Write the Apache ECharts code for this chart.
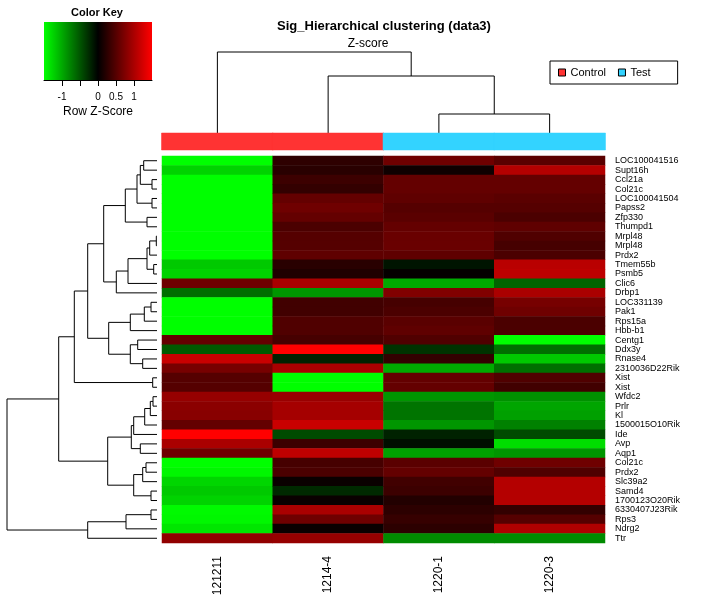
<!DOCTYPE html>
<html>
<head>
<meta charset="utf-8">
<script src="https://cdn.jsdelivr.net/npm/echarts@6/dist/echarts.min.js"></script>
<style>html,body{margin:0;padding:0;background:#fff}#c{width:702px;height:602px}</style>
</head>
<body>
<div id="c"></div>
<script>
// ---------------- data ----------------
const colLabels = ['121211', '1214-4', '1220-1', '1220-3'];
const colGroups = ['Control', 'Control', 'Test', 'Test'];
const rowLabels = ['LOC100041516','Supt16h','Ccl21a','Col21c','LOC100041504','Papss2','Zfp330','Thumpd1','Mrpl48','Mrpl48','Prdx2','Tmem55b','Psmb5','Clic6','Drbp1','LOC331139','Pak1','Rps15a','Hbb-b1','Centg1','Ddx3y','Rnase4','2310036D22Rik','Xist','Xist','Wfdc2','Prlr','Kl','1500015O10Rik','Ide','Avp','Aqp1','Col21c','Prdx2','Slc39a2','Samd4','1700123O20Rik','6330407J23Rik','Rps3','Ndrg2','Ttr'];
// row z-scores, one array per sample column
const z121211 = [-1.5,-1.24,-1.5,-1.5,-1.5,-1.5,-1.5,-1.5,-1.5,-1.5,-1.5,-1.18,-1.24,0.65,-0.65,-1.5,-1.5,-1.5,-1.5,0.59,-0.53,1.18,0.7,0.5,0.5,0.88,0.82,0.8,0.59,1.5,1.0,0.65,-1.5,-1.45,-1.26,-1.18,-1.24,-1.47,-1.45,-1.35,0.85];
const z1214_4 = [0.27,0.24,0.35,0.30,0.59,0.65,0.59,0.44,0.50,0.50,0.56,0.24,0.18,1.0,-0.88,0.38,0.38,0.47,0.47,0.41,1.5,-0.2,1.0,-1.5,-1.5,0.9,0.97,0.97,1.18,-0.44,0.35,1.12,0.41,0.44,0.06,-0.24,0.06,1.0,0.65,0.06,0.88];
const z1220_1 = [0.65,0.09,0.59,0.59,0.56,0.50,0.53,0.59,0.62,0.62,0.56,-0.12,0.03,-1.0,0.76,0.41,0.44,0.53,0.56,0.47,-0.3,0.3,-1.0,0.59,0.59,-0.88,-0.68,-0.68,-0.88,-0.2,-0.09,-0.94,0.53,0.59,0.38,0.35,0.2,0.26,0.32,0.26,-0.82];
const z1220_3 = [0.53,1.06,0.59,0.59,0.53,0.50,0.44,0.56,0.47,0.41,0.44,1.09,1.12,-0.59,1.0,0.70,0.65,0.44,0.44,-1.5,-0.65,-1.18,-0.65,0.47,0.38,-0.85,-0.97,-0.94,-0.76,-0.44,-1.3,-0.88,0.65,0.47,1.06,1.06,1.06,0.3,0.5,1.03,-0.82];
// hclust-style merges: negative = leaf (-(index+1)), positive = earlier merge (1-based); third = height
const rowMerges = [
  [-1,-2,13.3],[-3,-4,5],[1,2,16.7],[-5,-6,5],[3,4,20],[-7,-8,10],[5,6,31.7],
  [-9,-10,0.7],[8,-11,7.3],[-12,-13,3.3],[9,10,10],[11,-14,29],[12,-15,40.7],[7,13,53.3],
  [-16,-17,6],[15,-18,12.7],[16,-19,26.7],[-20,-21,19.3],[-22,-23,14.3],[18,19,26.7],[17,20,48.3],
  [14,21,69.3],[-24,-25,4.3],[22,23,82.7],
  [-26,-27,4],[25,-28,6.7],[26,-29,12.3],[27,-30,23.3],[-31,-32,16.7],[28,29,25.7],
  [-33,-34,11],[31,-35,14.3],[-36,-37,6],[32,33,23.3],[30,34,49.3],[24,35,98.3],
  [-38,-39,6],[37,-40,31],[38,-41,69.3],[36,39,150]
];
const colMerges = [[-3,-4,19],[-2,1,57],[-1,2,81]];
const keyTicks = [-1, -0.5, 0, 0.5, 1];
const keyLabels = [-1, 0, 0.5, 1];

// ---------------- helpers ----------------
function dendroSegments(merges) {
  const pos = [], hgt = [];
  const out = [];
  function ref(r) {
    if (r < 0) return [(-r - 1) + 0.5, 0];
    return [pos[r - 1], hgt[r - 1]];
  }
  merges.forEach(m => {
    const a = ref(m[0]), b = ref(m[1]);
    pos.push((a[0] + b[0]) / 2); hgt.push(m[2]);
    out.push([a[0], a[1], b[0], b[1], m[2]]);
  });
  return out;
}
const FONT = 'Liberation Sans, Arial, sans-serif';
const zCols = [z121211, z1214_4, z1220_1, z1220_3];
const heatData = [];
zCols.forEach((col, ci) => col.forEach((v, ri) => heatData.push([ci, ri, v])));

const chart = echarts.init(document.getElementById('c'), null, {renderer: 'canvas'});
const lineStyle = {stroke: '#000', lineWidth: 1, fill: null};

const option = {
  backgroundColor: '#fff',
  animation: false,
  textStyle: {fontFamily: FONT},
  title: [
    {text: 'Sig_Hierarchical clustering (data3)', left: 384, top: 20, textAlign: 'center', padding: 0,
     textStyle: {fontSize: 13, fontWeight: 'bold', color: '#000', fontFamily: FONT}},
    {text: 'Z-score', left: 368, top: 38, textAlign: 'center', padding: 0,
     textStyle: {fontSize: 12, fontWeight: 'normal', color: '#000', fontFamily: FONT}},
    {text: 'Color Key', left: 97, top: 7, textAlign: 'center', padding: 0,
     textStyle: {fontSize: 11, fontWeight: 'bold', color: '#000', fontFamily: FONT}}
  ],
  legend: {
    data: ['Control', 'Test'], left: 550, top: 61, orient: 'horizontal',
    padding: [6, 27, 6, 8], itemGap: 12, itemWidth: 7, itemHeight: 7, icon: 'rect',
    borderColor: '#000', borderWidth: 1, selectedMode: false,
    itemStyle: {borderColor: '#000', borderWidth: 1},
    textStyle: {fontSize: 11, color: '#000', fontFamily: FONT}
  },
  visualMap: {
    type: 'continuous', show: false, min: -1.5, max: 1.5, seriesIndex: 0,
    inRange: {color: ['#00ff00', '#000000', '#ff0000']}
  },
  grid: [
    {left: 162, top: 156, width: 443, height: 387},
    {left: 7, top: 156, width: 150, height: 387},
    {left: 162, top: 52, width: 443, height: 81},
    {left: 162, top: 133, width: 443, height: 17},
    {left: 44, top: 22, width: 108, height: 58}
  ],
  xAxis: [
    {gridIndex: 0, type: 'category', data: colLabels, position: 'bottom',
     axisLine: {show: false}, axisTick: {show: false}, splitLine: {show: false},
     axisLabel: {rotate: 90, margin: 13, fontSize: 12, color: '#000', fontFamily: FONT, interval: 0}},
    {gridIndex: 1, type: 'value', min: 0, max: 150, inverse: true, show: false},
    {gridIndex: 2, type: 'value', min: 0, max: 4, show: false},
    {gridIndex: 3, type: 'category', data: colLabels, show: false},
    {gridIndex: 4, type: 'value', min: -1.5, max: 1.5, position: 'bottom',
     splitLine: {show: false},
     axisLine: {show: true, lineStyle: {color: '#000', width: 1}},
     axisTick: {show: true, length: 6, lineStyle: {color: '#000'}, customValues: keyTicks},
     axisLabel: {fontSize: 10, color: '#000', margin: 12, customValues: keyLabels, fontFamily: FONT},
     name: 'Row Z-Score', nameLocation: 'middle', nameGap: 26,
     nameTextStyle: {fontSize: 12, color: '#000', fontFamily: FONT}}
  ],
  yAxis: [
    {gridIndex: 0, type: 'category', data: rowLabels, inverse: true, position: 'right',
     axisLine: {show: false}, axisTick: {show: false}, splitLine: {show: false},
     axisLabel: {fontSize: 9, color: '#000', margin: 10, interval: 0, fontFamily: FONT, padding: [3, 0, 0, 0]}},
    {gridIndex: 1, type: 'value', min: 0, max: 41, inverse: true, show: false},
    {gridIndex: 2, type: 'value', min: 0, max: 81, show: false},
    {gridIndex: 3, type: 'value', min: 0, max: 1, show: false},
    {gridIndex: 4, type: 'value', min: 0, max: 1, show: false}
  ],
  series: [
    {type: 'heatmap', xAxisIndex: 0, yAxisIndex: 0, data: heatData, emphasis: {disabled: true}},
    {type: 'custom', xAxisIndex: 1, yAxisIndex: 1, clip: false, silent: true,
     data: dendroSegments(rowMerges),
     renderItem: function (params, api) {
       const ya = api.value(0), ha = api.value(1), yb = api.value(2), hb = api.value(3), h = api.value(4);
       return {type: 'polyline', shape: {points: [
         api.coord([ha, ya]), api.coord([h, ya]), api.coord([h, yb]), api.coord([hb, yb])]},
         style: lineStyle};
     }},
    {type: 'custom', xAxisIndex: 2, yAxisIndex: 2, clip: false, silent: true,
     data: dendroSegments(colMerges),
     renderItem: function (params, api) {
       const xa = api.value(0), ha = api.value(1), xb = api.value(2), hb = api.value(3), h = api.value(4);
       return {type: 'polyline', shape: {points: [
         api.coord([xa, ha]), api.coord([xa, h]), api.coord([xb, h]), api.coord([xb, hb])]},
         style: lineStyle};
     }},
    ...['Control', 'Test'].map((g, gi) => ({
      name: g, type: 'custom', xAxisIndex: 3, yAxisIndex: 3, silent: true, clip: false,
      itemStyle: {color: gi === 0 ? '#ff3333' : '#33d3ff'},
      data: colGroups.map((cg, ci) => cg === g ? [ci, 1] : null).filter(d => d),
      renderItem: function (params, api) {
        const p = api.coord([api.value(0), 1]);
        const w = api.size([1, 0])[0];
        const hh = api.size([0, 1])[1];
        const c = api.visual('color');
        return {type: 'rect', shape: {x: p[0] - w / 2 - 0.5, y: p[1], width: w + 1, height: hh},
          style: {fill: c, stroke: c, lineWidth: 0.5}};
      }
    })),
    {type: 'custom', xAxisIndex: 4, yAxisIndex: 4, silent: true, clip: false,
     data: [[-1.5, 1.5]],
     renderItem: function (params, api) {
       const p0 = api.coord([api.value(0), 1]);
       const p1 = api.coord([api.value(1), 0]);
       return {type: 'rect', shape: {x: p0[0], y: p0[1], width: p1[0] - p0[0], height: p1[1] - p0[1]},
         style: {fill: new echarts.graphic.LinearGradient(0, 0, 1, 0, [
           {offset: 0, color: '#00ff00'}, {offset: 0.5, color: '#000000'}, {offset: 1, color: '#ff0000'}])}};
     }}
  ]
};
chart.setOption(option);
</script>
</body>
</html>
